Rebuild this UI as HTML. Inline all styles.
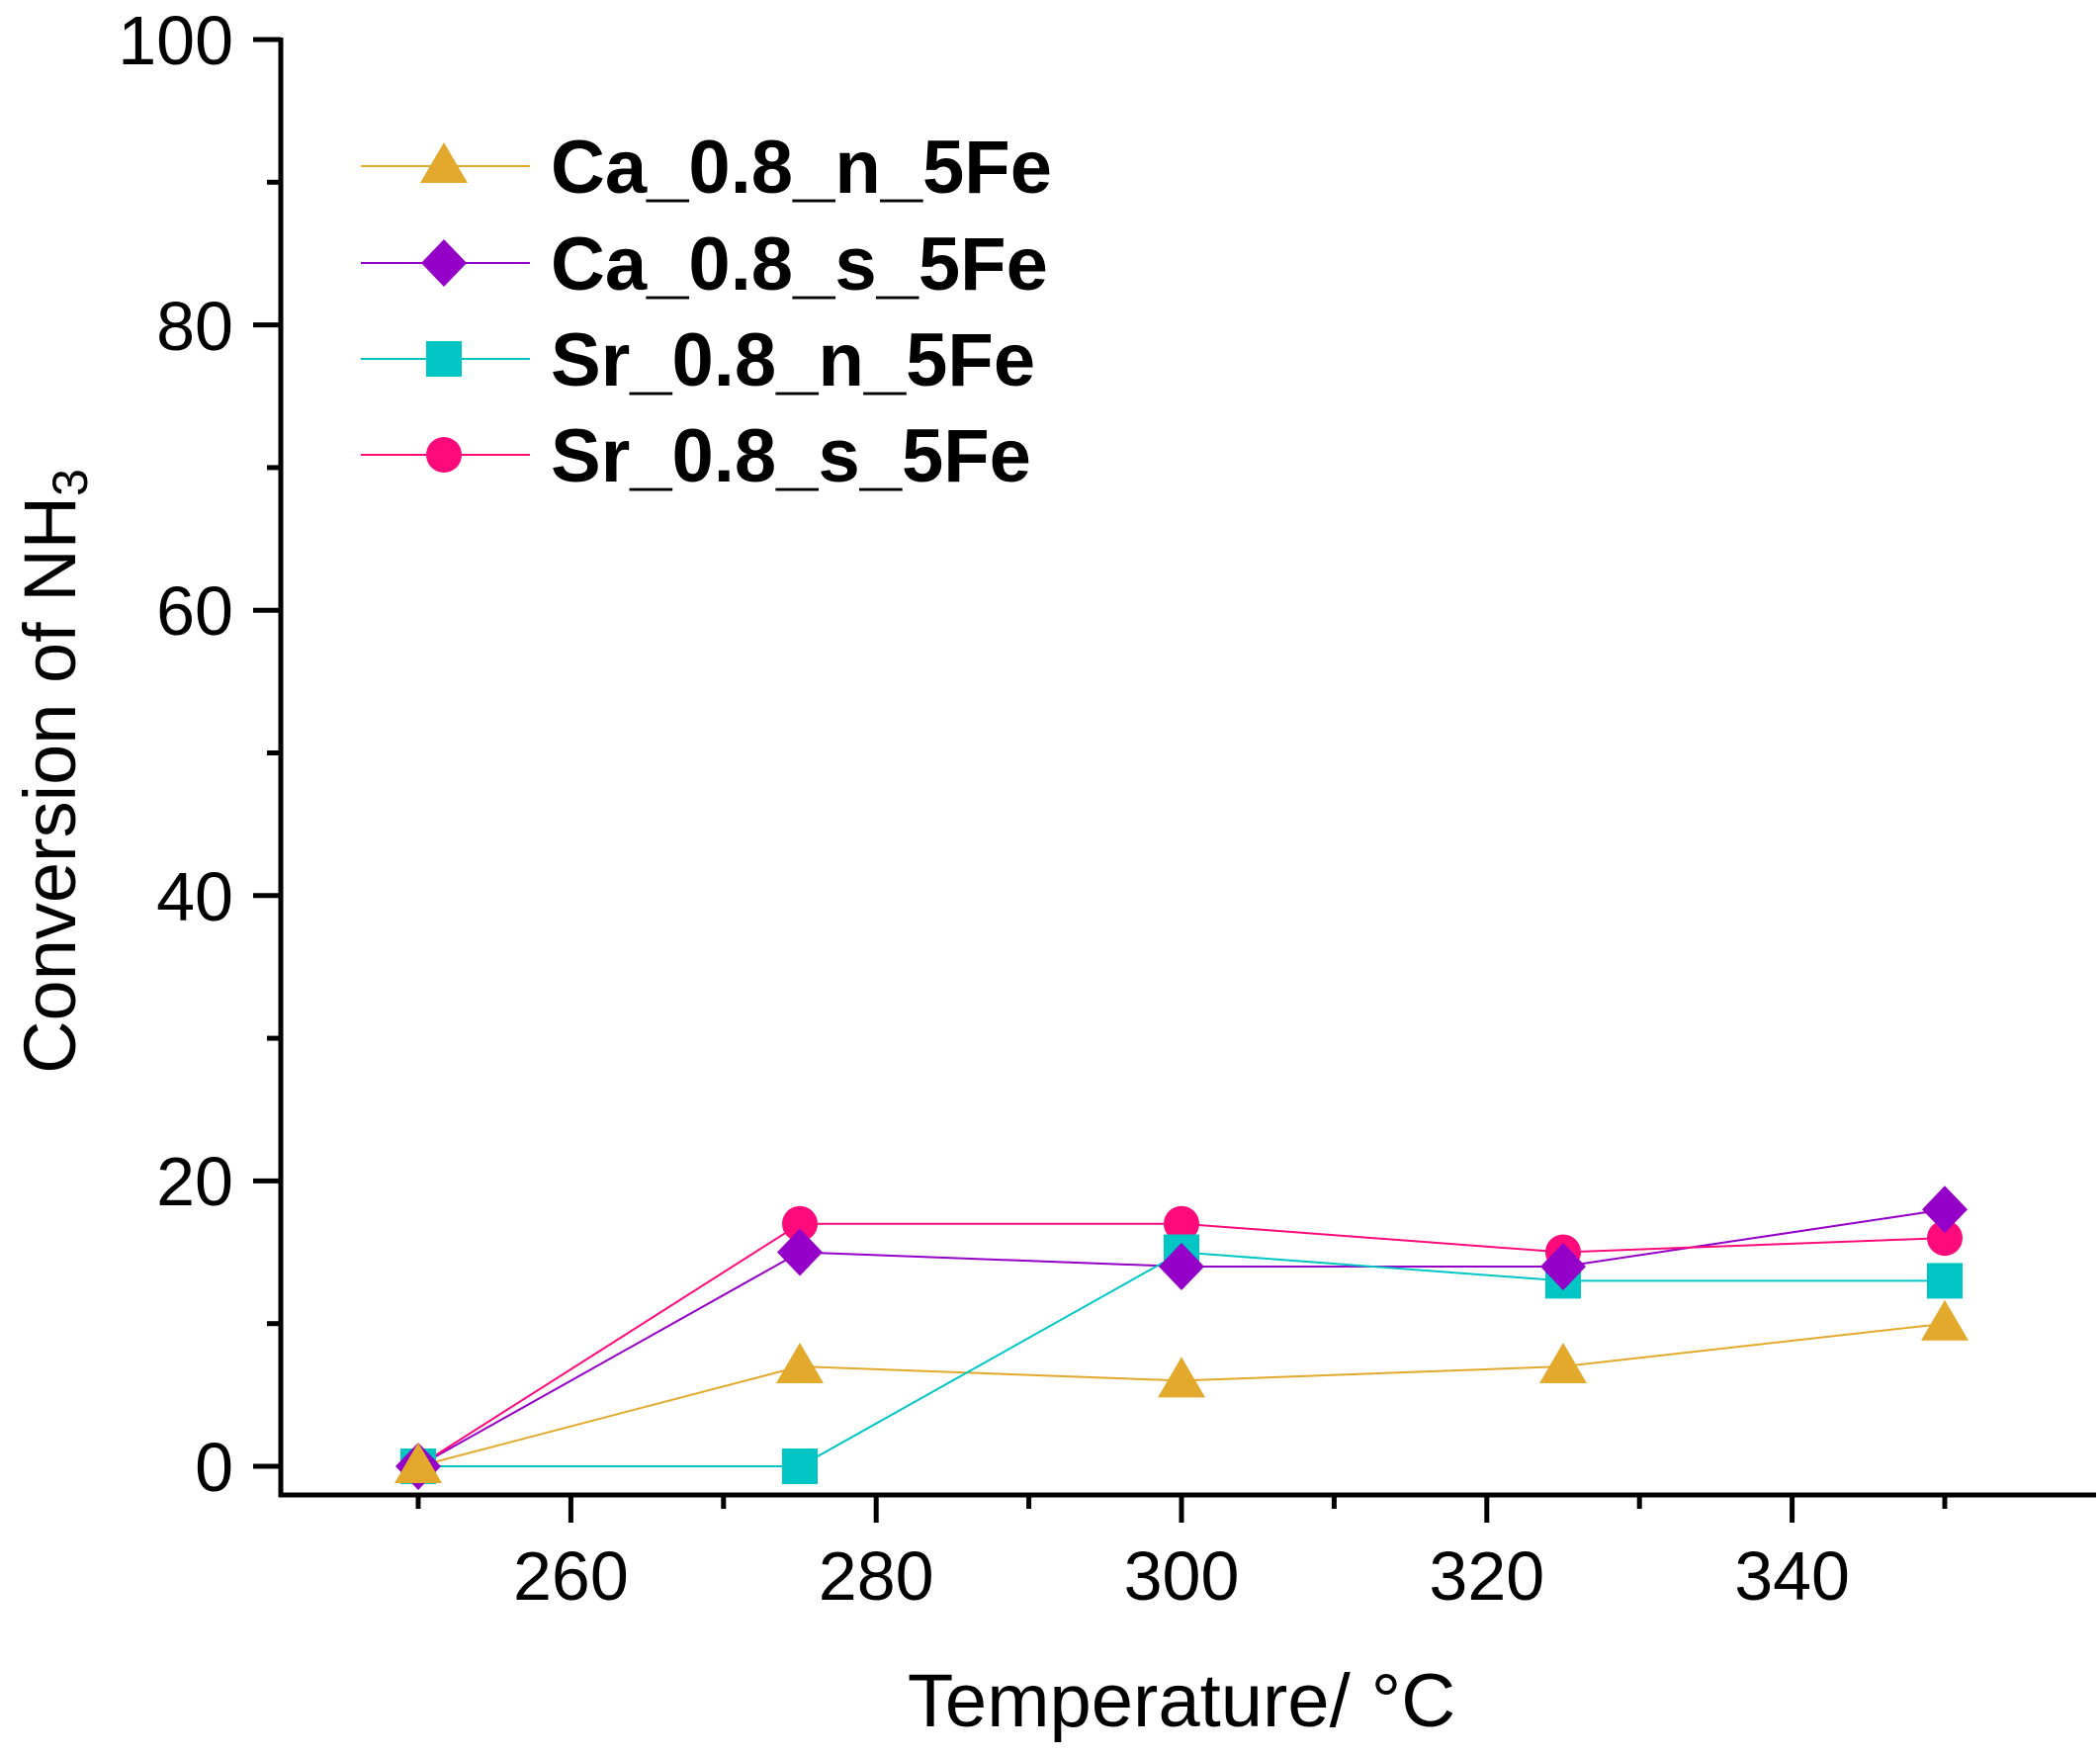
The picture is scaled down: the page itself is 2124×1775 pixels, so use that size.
<!DOCTYPE html>
<html><head><meta charset="utf-8"><style>
html,body{margin:0;padding:0;background:#fff;}
svg{display:block;}
text{font-family:"Liberation Sans",Arial,sans-serif;fill:#000;}
</style></head><body>
<svg width="2124" height="1775" viewBox="0 0 2124 1775" xmlns="http://www.w3.org/2000/svg">
<defs>
<polygon id="tri" points="0,-24 24,17 -24,17" fill="#E3A92C"/>
<polygon id="dia" points="0,-24 23,0 0,24 -23,0" fill="#9400C8"/>
<rect id="sq" x="-18" y="-18" width="36" height="36" fill="#00C5C5"/>
<circle id="cir" r="18" fill="#FF0A7A"/>
</defs>
<g stroke="#000" stroke-width="5" fill="none">
<line x1="284" y1="38" x2="284" y2="1514"/>
<line x1="282" y1="1512" x2="2120" y2="1512"/>
<line x1="256" y1="40" x2="284" y2="40"/>
<line x1="256" y1="328.6" x2="284" y2="328.6"/>
<line x1="256" y1="617.2" x2="284" y2="617.2"/>
<line x1="256" y1="905.8" x2="284" y2="905.8"/>
<line x1="256" y1="1194.4" x2="284" y2="1194.4"/>
<line x1="256" y1="1483" x2="284" y2="1483"/>
<line x1="270" y1="184.3" x2="284" y2="184.3"/>
<line x1="270" y1="472.9" x2="284" y2="472.9"/>
<line x1="270" y1="761.5" x2="284" y2="761.5"/>
<line x1="270" y1="1050.1" x2="284" y2="1050.1"/>
<line x1="270" y1="1338.7" x2="284" y2="1338.7"/>
<line x1="577.4" y1="1512" x2="577.4" y2="1540"/>
<line x1="886.2" y1="1512" x2="886.2" y2="1540"/>
<line x1="1195" y1="1512" x2="1195" y2="1540"/>
<line x1="1503.8" y1="1512" x2="1503.8" y2="1540"/>
<line x1="1812.6" y1="1512" x2="1812.6" y2="1540"/>
<line x1="423" y1="1512" x2="423" y2="1526"/>
<line x1="731.8" y1="1512" x2="731.8" y2="1526"/>
<line x1="1040.6" y1="1512" x2="1040.6" y2="1526"/>
<line x1="1349.4" y1="1512" x2="1349.4" y2="1526"/>
<line x1="1658.2" y1="1512" x2="1658.2" y2="1526"/>
<line x1="1967" y1="1512" x2="1967" y2="1526"/>
</g>
<g font-size="70" text-anchor="end">
<text x="236" y="65">100</text>
<text x="236" y="354">80</text>
<text x="236" y="642">60</text>
<text x="236" y="931">40</text>
<text x="236" y="1219">20</text>
<text x="236" y="1508">0</text>
</g>
<g font-size="70" text-anchor="middle">
<text x="577.4" y="1618">260</text>
<text x="886.2" y="1618">280</text>
<text x="1195" y="1618">300</text>
<text x="1503.8" y="1618">320</text>
<text x="1812.6" y="1618">340</text>
</g>
<text x="1195" y="1746" font-size="76" text-anchor="middle">Temperature/ °C</text>
<text transform="translate(76,780) rotate(-90)" font-size="74" text-anchor="middle">Conversion of NH<tspan font-size="50" dy="12">3</tspan></text>
<g fill="none" stroke-width="2">
<polyline stroke="#E3A92C" points="423,1483 809,1382 1195,1396.4 1581,1382 1967,1338.7"/>
<polyline stroke="#9400C8" points="423,1483 809,1266.5 1195,1281 1581,1281 1967,1223.3"/>
<polyline stroke="#00C5C5" points="423,1483 809,1483 1195,1266.5 1581,1295.4 1967,1295.4"/>
<polyline stroke="#FF0A7A" points="423,1483 809,1237.7 1195,1237.7 1581,1266.5 1967,1252.1"/>
</g>
<use href="#cir" x="423" y="1483"/><use href="#cir" x="809" y="1237.7"/><use href="#cir" x="1195" y="1237.7"/><use href="#cir" x="1581" y="1266.5"/><use href="#cir" x="1967" y="1252.1"/>
<use href="#sq" x="423" y="1483"/><use href="#sq" x="809" y="1483"/><use href="#sq" x="1195" y="1266.5"/><use href="#sq" x="1581" y="1295.4"/><use href="#sq" x="1967" y="1295.4"/>
<use href="#dia" x="423" y="1483"/><use href="#dia" x="809" y="1266.5"/><use href="#dia" x="1195" y="1281"/><use href="#dia" x="1581" y="1281"/><use href="#dia" x="1967" y="1223.3"/>
<use href="#tri" x="423" y="1483"/><use href="#tri" x="809" y="1382"/><use href="#tri" x="1195" y="1396.4"/><use href="#tri" x="1581" y="1382"/><use href="#tri" x="1967" y="1338.7"/>
<g stroke-width="2">
<line x1="365" y1="168" x2="536" y2="168" stroke="#E3A92C"/>
<line x1="365" y1="266" x2="536" y2="266" stroke="#9400C8"/>
<line x1="365" y1="363" x2="536" y2="363" stroke="#00C5C5"/>
<line x1="365" y1="460" x2="536" y2="460" stroke="#FF0A7A"/>
</g>
<use href="#tri" x="449" y="168"/>
<use href="#dia" x="449" y="266"/>
<use href="#sq" x="449" y="363"/>
<use href="#cir" x="449" y="460"/>
<g font-size="76" font-weight="bold">
<text x="557" y="195">Ca_0.8_n_5Fe</text>
<text x="557" y="293">Ca_0.8_s_5Fe</text>
<text x="557" y="390">Sr_0.8_n_5Fe</text>
<text x="557" y="487">Sr_0.8_s_5Fe</text>
</g>
</svg>
</body></html>
